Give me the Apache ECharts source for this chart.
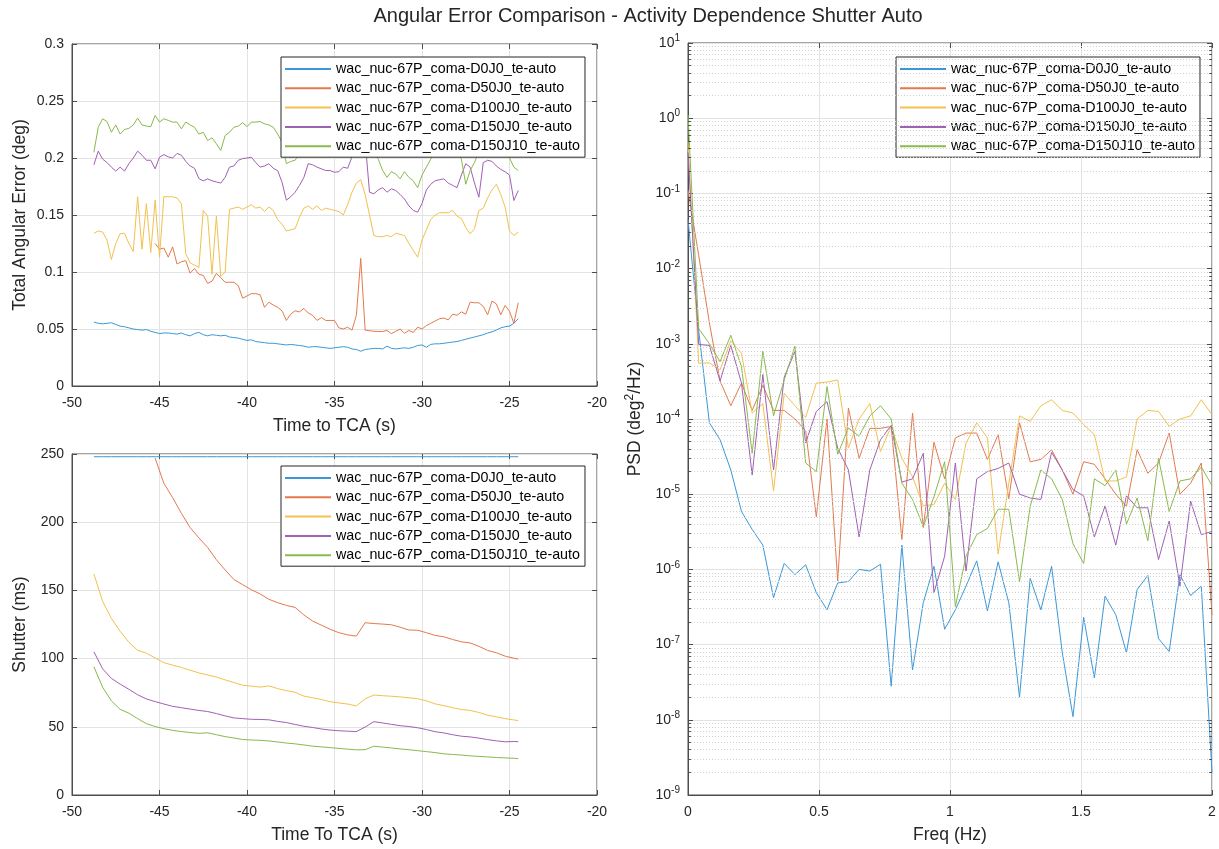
<!DOCTYPE html>
<html lang="en">
<head>
    <meta charset="UTF-8">
    <title>Angular Error Comparison</title>
    <style>
    html, body { margin: 0; padding: 0; background: #fff; }
    #main { width: 1219px; height: 849px; }
    </style>
</head>
<body>
    <div id="main"></div>
    <script src="https://cdn.jsdelivr.net/npm/echarts@6/dist/echarts.min.js"></script>
    <script>
    // series names and colours (MATLAB default order)
    var names = ['wac_nuc-67P_coma-D0J0_te-auto', 'wac_nuc-67P_coma-D50J0_te-auto',
        'wac_nuc-67P_coma-D100J0_te-auto', 'wac_nuc-67P_coma-D150J0_te-auto',
        'wac_nuc-67P_coma-D150J10_te-auto'];
    var colors = ['#3a98d8', '#e27a4e', '#f2c14e', '#a060b4', '#88ba4c'];

    // top left: total angular error (deg) vs time to TCA (s)
    var tErr = [
        -48.75,-48.5,-48.25,-48, -47.75,-47.5,-47.25,-47,
        -46.75,-46.5,-46.25,-46, -45.75,-45.5,-45.25,-45,
        -44.75,-44.5,-44.25,-44, -43.75,-43.5,-43.25,-43,
        -42.75,-42.5,-42.25,-42, -41.75,-41.5,-41.25,-41,
        -40.75,-40.5,-40.25,-40, -39.75,-39.5,-39.25,-39,
        -38.75,-38.5,-38.25,-38, -37.75,-37.5,-37.25,-37,
        -36.75,-36.5,-36.25,-36, -35.75,-35.5,-35.25,-35,
        -34.75,-34.5,-34.25,-34, -33.75,-33.5,-33.25,-33,
        -32.75,-32.5,-32.25,-32, -31.75,-31.5,-31.25,-31,
        -30.75,-30.5,-30.25,-30, -29.75,-29.5,-29.25,-29,
        -28.75,-28.5,-28.25,-28, -27.75,-27.5,-27.25,-27,
        -26.75,-26.5,-26.25,-26, -25.75,-25.5,-25.25,-25,
        -24.75,-24.5];
    var errD0J0 = [
        0.056,0.055,0.0545,0.055, 0.0555,0.054,0.0525,0.052,
        0.051,0.050,0.0495,0.049, 0.0495,0.048,0.047,0.046,
        0.0465,0.0465,0.046,0.0455, 0.0465,0.045,0.044,0.046,
        0.047,0.045,0.044,0.045, 0.0445,0.044,0.0445,0.043,
        0.0425,0.042,0.041,0.040, 0.0405,0.039,0.0385,0.038,
        0.0375,0.0375,0.037,0.0365, 0.036,0.0365,0.036,0.0355,
        0.035,0.034,0.0345,0.0345, 0.034,0.0335,0.033,0.0335,
        0.034,0.0345,0.034,0.0325, 0.032,0.0305,0.032,0.0325,
        0.033,0.033,0.0325,0.035, 0.033,0.0325,0.033,0.0335,
        0.033,0.034,0.0355,0.036, 0.034,0.0365,0.037,0.037,
        0.0375,0.038,0.0385,0.039, 0.040,0.041,0.042,0.043,
        0.044,0.045,0.0465,0.0475, 0.049,0.051,0.052,0.0525,
        0.055,0.059];
    var errD50J0 = [
        null,null,null,null, null,null,null,null,
        null,null,null,null, null,null,0.125,0.12,
        0.121,0.113,0.122,0.107, 0.109,0.110,0.099,0.103,
        0.098,0.097,0.090,0.092, 0.0987,0.095,0.091,0.091,
        0.091,0.088,0.077,0.079, 0.081,0.081,0.080,0.069,
        0.0735,0.071,0.069,0.066, 0.0575,0.063,0.066,0.065,
        0.068,0.064,0.062,0.0575, 0.060,0.0575,0.0575,0.0575,
        0.051,0.050,0.0516,0.049, 0.062,0.112,0.049,0.0485,
        0.048,0.0478,0.0478,0.0487, 0.0459,0.048,0.050,0.0462,
        0.0487,0.047,0.0516,0.050, 0.053,0.055,0.057,0.059,
        0.0596,0.058,0.063,0.062, 0.065,0.063,0.0735,0.073,
        0.073,0.0698,0.0625,0.0745, 0.072,0.0625,0.0706,0.0655,
        0.055,0.073];
    var errD100J0 = [
        0.134,0.136,0.135,0.128, 0.111,0.125,0.1335,0.134,
        0.125,0.118,0.166,0.120, 0.160,0.117,0.163,0.113,
        0.166,0.166,0.166,0.165, 0.160,0.116,0.108,0.106,
        0.104,0.154,0.149,0.098, 0.149,0.096,0.100,0.155,
        0.156,0.157,0.155,0.157, 0.159,0.156,0.157,0.153,
        0.157,0.154,0.146,0.142, 0.136,0.137,0.138,0.148,
        0.156,0.158,0.155,0.158, 0.154,0.156,0.155,0.154,
        0.153,0.150,0.159,0.170, 0.178,0.181,0.168,0.150,
        0.132,0.131,0.131,0.132, 0.131,0.134,0.133,0.132,
        0.125,0.119,0.113,0.128, 0.137,0.146,0.150,0.152,
        0.152,0.152,0.154,0.149, 0.147,0.139,0.1335,0.138,
        0.154,0.156,0.165,0.172, 0.177,0.168,0.157,0.136,
        0.132,0.135];
    var errD150J0 = [
        0.194,0.206,0.199,0.196, 0.192,0.1885,0.192,0.1885,
        0.195,0.200,0.206,0.2025, 0.198,0.198,0.1905,0.2007,
        0.203,0.201,0.200,0.204, 0.2025,0.197,0.193,0.191,
        0.182,0.180,0.1817,0.180, 0.179,0.178,0.183,0.192,
        0.193,0.198,0.1995,0.200, 0.2007,0.196,0.192,0.193,
        0.195,0.191,0.189,0.1788, 0.163,0.166,0.170,0.176,
        0.183,0.195,0.194,0.192, 0.1905,0.189,0.189,0.1875,
        0.188,0.192,0.191,0.201, 0.215,0.220,0.215,0.170,
        0.1686,0.172,0.174,0.170, 0.173,0.1715,0.168,0.164,
        0.158,0.154,0.1525,0.160, 0.172,0.177,0.180,0.181,
        0.1817,0.178,0.176,0.174, 0.185,0.195,0.192,0.178,
        0.1656,0.196,0.198,0.197, 0.193,0.190,0.188,0.185,
        0.1627,0.1715];
    var errD150J10 = [
        0.205,0.227,0.2344,0.232, 0.2226,0.229,0.221,0.225,
        0.226,0.229,0.235,0.229, 0.228,0.2275,0.2373,0.2315,
        0.2344,0.233,0.2315,0.2315, 0.2256,0.2315,0.229,0.227,
        0.221,0.2226,0.2153,0.2177, 0.2125,0.2066,0.2197,0.2226,
        0.227,0.228,0.231,0.2275, 0.2315,0.2315,0.232,0.230,
        0.229,0.227,0.221,0.214, 0.195,0.197,0.198,0.204,
        0.212,0.218,0.222,0.220, 0.224,0.219,0.215,0.221,
        0.226,0.222,0.218,0.214, 0.220,0.224,0.216,0.210,
        0.205,0.199,0.189,0.183, 0.188,0.186,0.1817,0.188,
        0.183,0.180,0.174,0.185, 0.192,0.199,0.210,0.218,
        0.222,0.216,0.212,0.206, 0.199,0.177,0.189,0.196,
        0.206,0.214,0.218,0.212, 0.216,0.210,0.207,0.200,
        0.192,0.189];

    // bottom left: shutter (ms) vs time to TCA (s)
    var tShut = [
        -48.75,-48.25,-47.75,-47.25, -46.75,-46.25,-45.75,-45.25,
        -44.75,-44.25,-43.75,-43.25, -42.75,-42.25,-41.75,-41.25,
        -40.75,-40.25,-39.75,-39.25, -38.75,-38.25,-37.75,-37.25,
        -36.75,-36.25,-35.75,-35.25, -34.75,-34.25,-33.75,-33.25,
        -32.75,-32.25,-31.75,-31.25, -30.75,-30.25,-29.75,-29.25,
        -28.75,-28.25,-27.75,-27.25, -26.75,-26.25,-25.75,-25.25,
        -24.75,-24.5];
    var shutD0J0 = [
        248,248,248,248, 248,248,248,248, 248,248,248,248, 248,248,248,248,
        248,248,248,248, 248,248,248,248, 248,248,248,248, 248,248,248,248,
        248,248,248,248, 248,248,248,248, 248,248,248,248, 248,248,248,248,
        248,248];
    var shutD50J0 = [
        null,null,null,null, null,null,null,247,
        228.5,218,206.5,196, 188.5,181.5,172.5,165,
        158,154.2,150.5,147.4, 143.5,141,139,137.5,
        132,127.5,124.5,121.5, 119,117.4,116.5,126.3,
        125.7,125.3,124.8,123, 121,120.8,119,117,
        116,114,112.3,111.5, 109,106,104.3,101.8,
        100.3,99.6];
    var shutD100J0 = [
        162,142,129.5,120, 112,106,104,100.5,
        97,95.2,93.5,91.5, 89.5,88,86.5,84.4,
        82.5,80.5,79.8,79.1, 80,78,76.5,75.3,
        72.5,71.3,70,68.4, 67.5,66.7,65.3,70.5,
        73.3,72.8,72.4,71.9, 71.3,70.6,69,66.8,
        65.5,64,62.7,62, 60.5,58.5,57.3,56,
        55,54.6];
    var shutD150J0 = [
        105,92.5,85.5,81.3, 77.5,73.5,70.4,68.5,
        66.7,65,64,63, 62,61.2,59.7,58,
        56.5,56,55.5,55.4, 55.1,54,53.1,51.7,
        50.4,49.5,48.4,47.6, 47.1,46.8,46.5,49.8,
        53.8,52.8,51.8,50.8, 50.2,49.3,48,46.4,
        45.5,44.2,43.1,42.6, 41.7,40.6,39.7,39,
        39.2,39.1];
    var shutD150J10 = [
        94,79,69,62.8, 60,56,52.3,50.2,
        48.6,47.4,46.5,45.8, 45.2,45.6,44.2,42.8,
        41.8,40.7,40.3,40.1, 39.6,38.9,38.1,37.5,
        36.7,35.8,35.3,34.7, 34.2,33.6,33.1,33.2,
        35.8,35.1,34.5,33.8, 33.2,32.5,31.8,31.1,
        30.2,29.7,29.3,28.7, 28.3,27.9,27.5,27.2,
        26.9,26.7];

    // right: PSD (deg^2/Hz) vs frequency (Hz)
    var freq = [
        0,0.0408,0.0816,0.1224,0.1633,0.2041,0.2449,0.2857,0.3265,0.3673,
        0.4082,0.4490,0.4898,0.5306,0.5714,0.6122,0.6531,0.6939,0.7347,0.7755,
        0.8163,0.8571,0.8980,0.9388,0.9796,1.0204,1.0612,1.1020,1.1429,1.1837,
        1.2245,1.2653,1.3061,1.3469,1.3878,1.4286,1.4694,1.5102,1.5510,1.5918,
        1.6327,1.6735,1.7143,1.7551,1.7959,1.8367,1.8776,1.9184,1.9592,2.0];
    var psdD0J0 = [
        0.045,1.5e-3,8.9e-5,5.3e-5,2.1e-5,5.9e-6,3.4e-6,2.1e-6,4.2e-7,1.2e-6,
        8.5e-7,1.15e-6,4.9e-7,2.9e-7,6.6e-7,6.9e-7,1e-6,9.5e-7,1.17e-6,2.8e-8,
        2.1e-6,4.6e-8,3.6e-7,1.1e-6,1.6e-7,2.9e-7,6e-7,1.3e-6,2.8e-7,1.26e-6,
        3.6e-7,2e-8,7.6e-7,2.9e-7,1.1e-6,7.8e-8,1.1e-8,2.3e-7,3.6e-8,4.4e-7,
        2.5e-7,7.8e-8,5.4e-7,8.3e-7,1.2e-7,8.1e-8,8.5e-7,4.5e-7,6e-7,2e-9];
    var psdD50J0 = [
        0.11,1.5e-2,1.9e-3,3.2e-4,1.5e-4,3e-4,1.3e-4,2.8e-4,1.3e-4,1.3e-4,
        1e-4,7e-5,5e-6,1e-4,7e-7,1.4e-4,3e-5,7.5e-5,7.5e-5,8e-5,
        2.5e-6,1.2e-4,3.6e-6,4.9e-5,1.6e-5,5.6e-5,6.5e-5,6.5e-5,2.9e-5,6.2e-5,
        8.7e-6,8.9e-5,2.7e-5,2.9e-5,3.9e-5,2.1e-5,1e-5,2.7e-5,2.5e-5,1.6e-5,
        1e-5,6.9e-6,3.9e-5,1.9e-5,2.6e-5,6.5e-5,1e-5,1.4e-5,2.6e-5,2.5e-7];
    var psdD100J0 = [
        0.5,5.5e-4,5.6e-4,4.5e-4,1.1e-3,7.5e-4,1.2e-4,1.6e-4,1.1e-5,2.2e-4,
        1.5e-4,1.05e-4,3e-4,3.1e-4,3.3e-4,4.1e-5,1e-4,1.6e-4,3.7e-5,8e-5,
        3e-5,1.7e-5,7e-6,7.3e-6,1.4e-5,8.5e-6,4.8e-5,8.9e-5,5.6e-5,1.6e-6,
        1.4e-5,1.1e-4,9.3e-5,1.5e-4,1.8e-4,1.3e-4,1.2e-4,8.4e-5,6.2e-5,1.5e-5,
        1.5e-5,1.7e-5,1e-4,1.3e-4,1.26e-4,8e-5,1e-4,1.1e-4,1.8e-4,1.14e-4];
    var psdD150J0 = [
        0.35,9.8e-4,9.5e-4,3.2e-4,9.5e-4,3e-4,1.8e-5,3.9e-4,2.1e-5,3.6e-4,
        7.9e-4,4.8e-5,1.26e-4,1.7e-4,4.1e-5,2.1e-5,2.7e-6,2.1e-5,5.3e-5,8.2e-5,
        1.45e-5,1.6e-5,3.5e-5,4.9e-7,1.5e-6,2.6e-5,9.5e-7,1.6e-5,2e-5,2.2e-5,
        2.6e-5,1e-5,8.9e-6,8.5e-6,3.6e-5,2.1e-5,1.15e-5,9.5e-6,2.7e-6,7e-6,
        2.1e-6,9.5e-6,6.6e-6,6.6e-6,1.35e-6,4.4e-6,6e-7,8.1e-6,2.9e-6,3.2e-6];
    var psdD150J10 = [
        1.1,1.6e-3,1e-3,5.8e-4,1.3e-3,5e-4,3.5e-5,8e-4,1.1e-4,3.3e-4,
        9.3e-4,2.6e-5,2e-5,2.7e-4,3.4e-5,7.6e-5,5.9e-5,1.1e-4,1.5e-4,1e-4,
        1.4e-5,8.5e-6,3.7e-6,9.3e-6,2.7e-5,3.2e-7,1.5e-6,2.9e-6,3.5e-6,6.3e-6,
        6.3e-6,6.9e-7,6.9e-6,2.1e-5,1.6e-5,8.5e-6,2.2e-6,1.2e-6,1.6e-5,1.3e-5,
        2.1e-5,4e-6,8.9e-6,2.4e-6,3e-5,5.9e-6,1.5e-5,1.6e-5,2.3e-5,1.3e-5];

    var errSets = [errD0J0, errD50J0, errD100J0, errD150J0, errD150J10];
    var shutSets = [shutD0J0, shutD50J0, shutD100J0, shutD150J0, shutD150J10];
    var psdSets = [psdD0J0, psdD50J0, psdD100J0, psdD150J0, psdD150J10];

    var FONT = '"Liberation Sans", Arial, Helvetica, sans-serif';
    var TXT = '#262626';
    var AX = '#4d4d4d';
    var GRID = '#e3e3e3';

    function pairs(xs, ys) {
        return xs.map(function (x, i) { return [x, ys[i]]; });
    }

    function xAx(grid, min, max, step, name, pos) {
        var main = pos !== 'top';
        return {
            gridIndex: grid, type: 'value', min: min, max: max, interval: step, position: pos || 'bottom',
            axisLine: { show: main, onZero: false, lineStyle: { color: AX } },
            axisTick: { inside: true, length: 5, lineStyle: { color: AX } },
            axisLabel: { show: main, color: TXT, fontSize: 14, fontFamily: FONT, margin: 10 },
            splitLine: { show: main, lineStyle: { color: GRID } },
            name: main ? name : '', nameLocation: 'middle', nameGap: 31,
            nameTextStyle: { color: TXT, fontSize: 17.5, fontFamily: FONT }
        };
    }
    function yAx(grid, min, max, step, name, pos) {
        var main = pos !== 'right';
        return {
            gridIndex: grid, type: 'value', min: min, max: max, interval: step, position: pos || 'left',
            axisLine: { show: main, onZero: false, lineStyle: { color: AX } },
            axisTick: { inside: true, length: 5, lineStyle: { color: AX } },
            axisLabel: { show: main, color: TXT, fontSize: 14, fontFamily: FONT, margin: 8 },
            splitLine: { show: main, lineStyle: { color: GRID } },
            name: main ? name : '', nameLocation: 'middle', nameGap: 43,
            nameTextStyle: { color: TXT, fontSize: 17.5, fontFamily: FONT }
        };
    }
    function logAx(pos) {
        var main = pos !== 'right';
        return {
            gridIndex: 2, type: 'log', logBase: 10, min: 1e-9, max: 10, interval: 1, position: pos || 'left',
            axisLine: { show: main, onZero: false, lineStyle: { color: AX } },
            axisTick: { inside: true, length: 5, lineStyle: { color: AX } },
            axisLabel: {
                show: main, margin: 8,
                formatter: function (v) {
                    return '{b|10}{e|' + Math.round(Math.log10(v)) + '}';
                },
                rich: {
                    b: { color: TXT, fontSize: 14, fontFamily: FONT },
                    e: { color: TXT, fontSize: 10, fontFamily: FONT, padding: [0, 0, 9, 0] }
                }
            },
            splitLine: { show: main, lineStyle: { color: GRID } },
            name: main ? '{n|PSD (deg}{e|2}{n|/Hz)}' : '', nameLocation: 'middle', nameGap: 42,
            nameTextStyle: {
                rich: {
                    n: { color: TXT, fontSize: 17.5, fontFamily: FONT },
                    e: { color: TXT, fontSize: 12, fontFamily: FONT, padding: [0, 0, 10, 0] }
                }
            }
        };
    }

    // minor log gridlines and minor ticks (2..9 x each decade)
    var minorLog = [], minorTicks = [];
    for (var d = -9; d <= 0; d++) {
        for (var m = 2; m <= 9; m++) {
            var v = m * Math.pow(10, d);
            minorLog.push({ yAxis: v });
            minorTicks.push([{ coord: [0, v] }, { coord: [0.011, v] }]);
            minorTicks.push([{ coord: [1.989, v] }, { coord: [2, v] }]);
        }
    }

    var series = [];
    [[tErr, errSets, 0], [tShut, shutSets, 1], [freq, psdSets, 2]].forEach(function (p) {
        p[1].forEach(function (ys, i) {
            series.push({
                name: names[i], type: 'line', xAxisIndex: p[2], yAxisIndex: p[2],
                data: pairs(p[0], ys), symbol: 'none', connectNulls: false,
                lineStyle: { color: colors[i], width: 1 }, itemStyle: { color: colors[i] },
                z: 3
            });
        });
    });
    series.push({
        name: 'minor', type: 'line', xAxisIndex: 2, yAxisIndex: 2, data: [], z: 1,
        markLine: {
            silent: true, precision: 15, symbol: ['none', 'none'], label: { show: false },
            lineStyle: { color: '#d0d0d0', type: [1, 2], width: 1 },
            data: minorLog
        }
    });
    series.push({
        name: 'minorTick', type: 'line', xAxisIndex: 2, yAxisIndex: 2, data: [], z: 4,
        markLine: {
            silent: true, precision: 15, symbol: ['none', 'none'], label: { show: false },
            lineStyle: { color: AX, type: 'solid', width: 1 },
            data: minorTicks
        }
    });

    function legend(left, top) {
        return {
            data: names, orient: 'vertical', left: left, top: top,
            icon: 'rect', itemWidth: 46, itemHeight: 2, itemGap: 3.3,
            padding: [4, 5, 3, 4], borderColor: '#262626', borderWidth: 1,
            backgroundColor: '#fff', selectedMode: false,
            textStyle: { color: '#000', fontSize: 14.3, fontFamily: FONT, lineHeight: 16 }
        };
    }

    var chart = echarts.init(document.getElementById('main'));
    chart.setOption({
        animation: false,
        backgroundColor: '#fff',
        title: {
            text: 'Angular Error Comparison - Activity Dependence Shutter Auto',
            left: 643, top: 1, textAlign: 'center',
            textStyle: { color: TXT, fontSize: 20, fontWeight: 'normal', fontFamily: FONT }
        },
        legend: [legend(281, 57), legend(281, 466), legend(896, 57)],
        grid: [
            { left: 72, top: 44, width: 525, height: 342, show: true, borderColor: AX, borderWidth: 1 },
            { left: 72, top: 454, width: 525, height: 341, show: true, borderColor: AX, borderWidth: 1 },
            { left: 688, top: 43, width: 524, height: 753, show: true, borderColor: AX, borderWidth: 1 }
        ],
        xAxis: [
            xAx(0, -50, -20, 5, 'Time to TCA (s)'),
            xAx(1, -50, -20, 5, 'Time To TCA (s)'),
            xAx(2, 0, 2, 0.5, 'Freq (Hz)'),
            xAx(0, -50, -20, 5, '', 'top'),
            xAx(1, -50, -20, 5, '', 'top'),
            xAx(2, 0, 2, 0.5, '', 'top')
        ],
        yAxis: [
            yAx(0, 0, 0.3, 0.05, 'Total Angular Error (deg)'),
            yAx(1, 0, 250, 50, 'Shutter (ms)'),
            logAx(),
            yAx(0, 0, 0.3, 0.05, '', 'right'),
            yAx(1, 0, 250, 50, '', 'right'),
            logAx('right')
        ],
        series: series
    });
    </script>
</body>
</html>
